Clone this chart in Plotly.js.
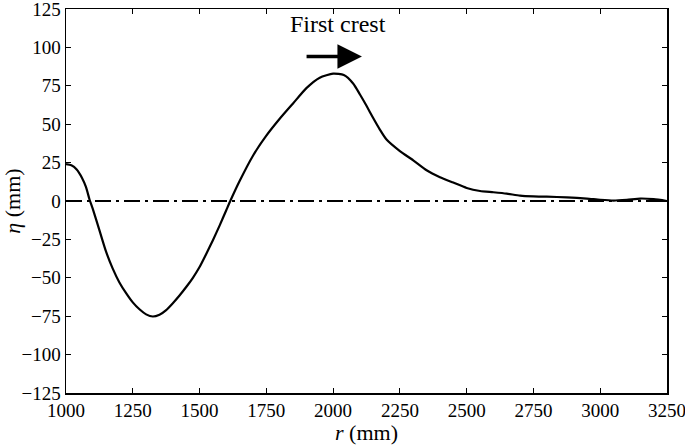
<!DOCTYPE html>
<html>
<head>
<meta charset="utf-8">
<script src="https://cdn.plot.ly/plotly-3.0.1.min.js"></script>
<style>html,body{margin:0;padding:0;background:#fff;}#chart{width:685px;height:445px;}</style>
</head>
<body>
<div id="chart"></div>
<script>
const r = [1000,1020,1040,1060,1075,1088,1100,1125,1150,1175,1200,1225,1250,1275,1300,1325,1350,1375,1400,1425,1450,1475,1500,1525,1550,1575,1600,1615,1650,1700,1750,1800,1850,1900,1950,2000,2040,2075,2100,2125,2150,2175,2200,2250,2300,2350,2400,2450,2500,2550,2600,2650,2700,2750,2800,2875,2950,3000,3050,3100,3150,3200,3250];
const eta = [24,23.2,20.5,15,9,1,-5,-19,-33,-44,-53,-60,-66,-70.5,-73.8,-75.2,-74,-71,-66.5,-61.5,-56,-50,-43,-34.5,-25.5,-16,-6,0,13,29.5,42.5,53.5,63.5,73.5,80.3,82.9,82,76.5,69.5,62,54,46.5,40,32.5,26.5,20,15.5,12,8.5,6.5,5.7,4.8,3.5,3,2.8,2.4,1.6,0.8,0.3,0.8,1.6,1.2,0];
const zeroR = [1000, 3250];
const zeroEta = [0, 0];
const xTicks = [1000,1250,1500,1750,2000,2250,2500,2750,3000,3250];
const yTicks = [-125,-100,-75,-50,-25,0,25,50,75,100,125];
const annText = "First crest";
const arrowFrom = [1895, 94];
const arrowTo = [2108, 94];
const textPos = [2018, 115];

const fam = '"Liberation Serif", Tinos, "Times New Roman", Times, "DejaVu Serif", serif';

const traces = [
  {x: zeroR, y: zeroEta, mode: "lines", line: {color: "#000", width: 2, dash: "16px,5px,3px,5px"}, hoverinfo: "skip"},
  {x: r, y: eta, mode: "lines", line: {color: "#000", width: 2.2, shape: "spline", smoothing: 0.6}}
];

function axisCommon() {
  return {
    showgrid: false, zeroline: false, showline: true, linecolor: "#000", linewidth: 1.5,
    mirror: "ticks", ticks: "inside", ticklen: 5, tickwidth: 1.2, tickcolor: "#000",
    ticklabeloverflow: "allow",
    tickfont: {family: fam, size: 19, color: "#000"}
  };
}

const layout = {
  width: 685, height: 445,
  margin: {l: 66, r: 18, t: 9, b: 52},
  paper_bgcolor: "#fff", plot_bgcolor: "#fff",
  showlegend: false,
  font: {family: fam, color: "#000"},
  xaxis: Object.assign(axisCommon(), {
    range: [1000, 3250], tickvals: xTicks, ticktext: xTicks.map(String),
    title: {text: "<i>r</i> (mm)", font: {family: fam, size: 22, color: "#000"}, standoff: 2}
  }),
  yaxis: Object.assign(axisCommon(), {
    range: [-125, 125], tickvals: yTicks, ticktext: yTicks.map(v => v < 0 ? "\u2212" + Math.abs(v) : String(v)),
    title: {text: "<i>η</i> (mm)", font: {family: fam, size: 22, color: "#000"}, standoff: 4}
  }),
  annotations: [
    {x: textPos[0], y: textPos[1], xref: "x", yref: "y", text: annText, showarrow: false,
     font: {family: fam, size: 24, color: "#000"}},
    {x: arrowTo[0], y: arrowTo[1], ax: arrowFrom[0], ay: arrowFrom[1], xref: "x", yref: "y", axref: "x", ayref: "y",
     text: "", showarrow: true, arrowhead: 2, arrowsize: 1.4, arrowwidth: 3.5, arrowcolor: "#000", standoff: 0}
  ]
};

Plotly.newPlot("chart", traces, layout, {staticPlot: true, displayModeBar: false});
</script>
</body>
</html>
